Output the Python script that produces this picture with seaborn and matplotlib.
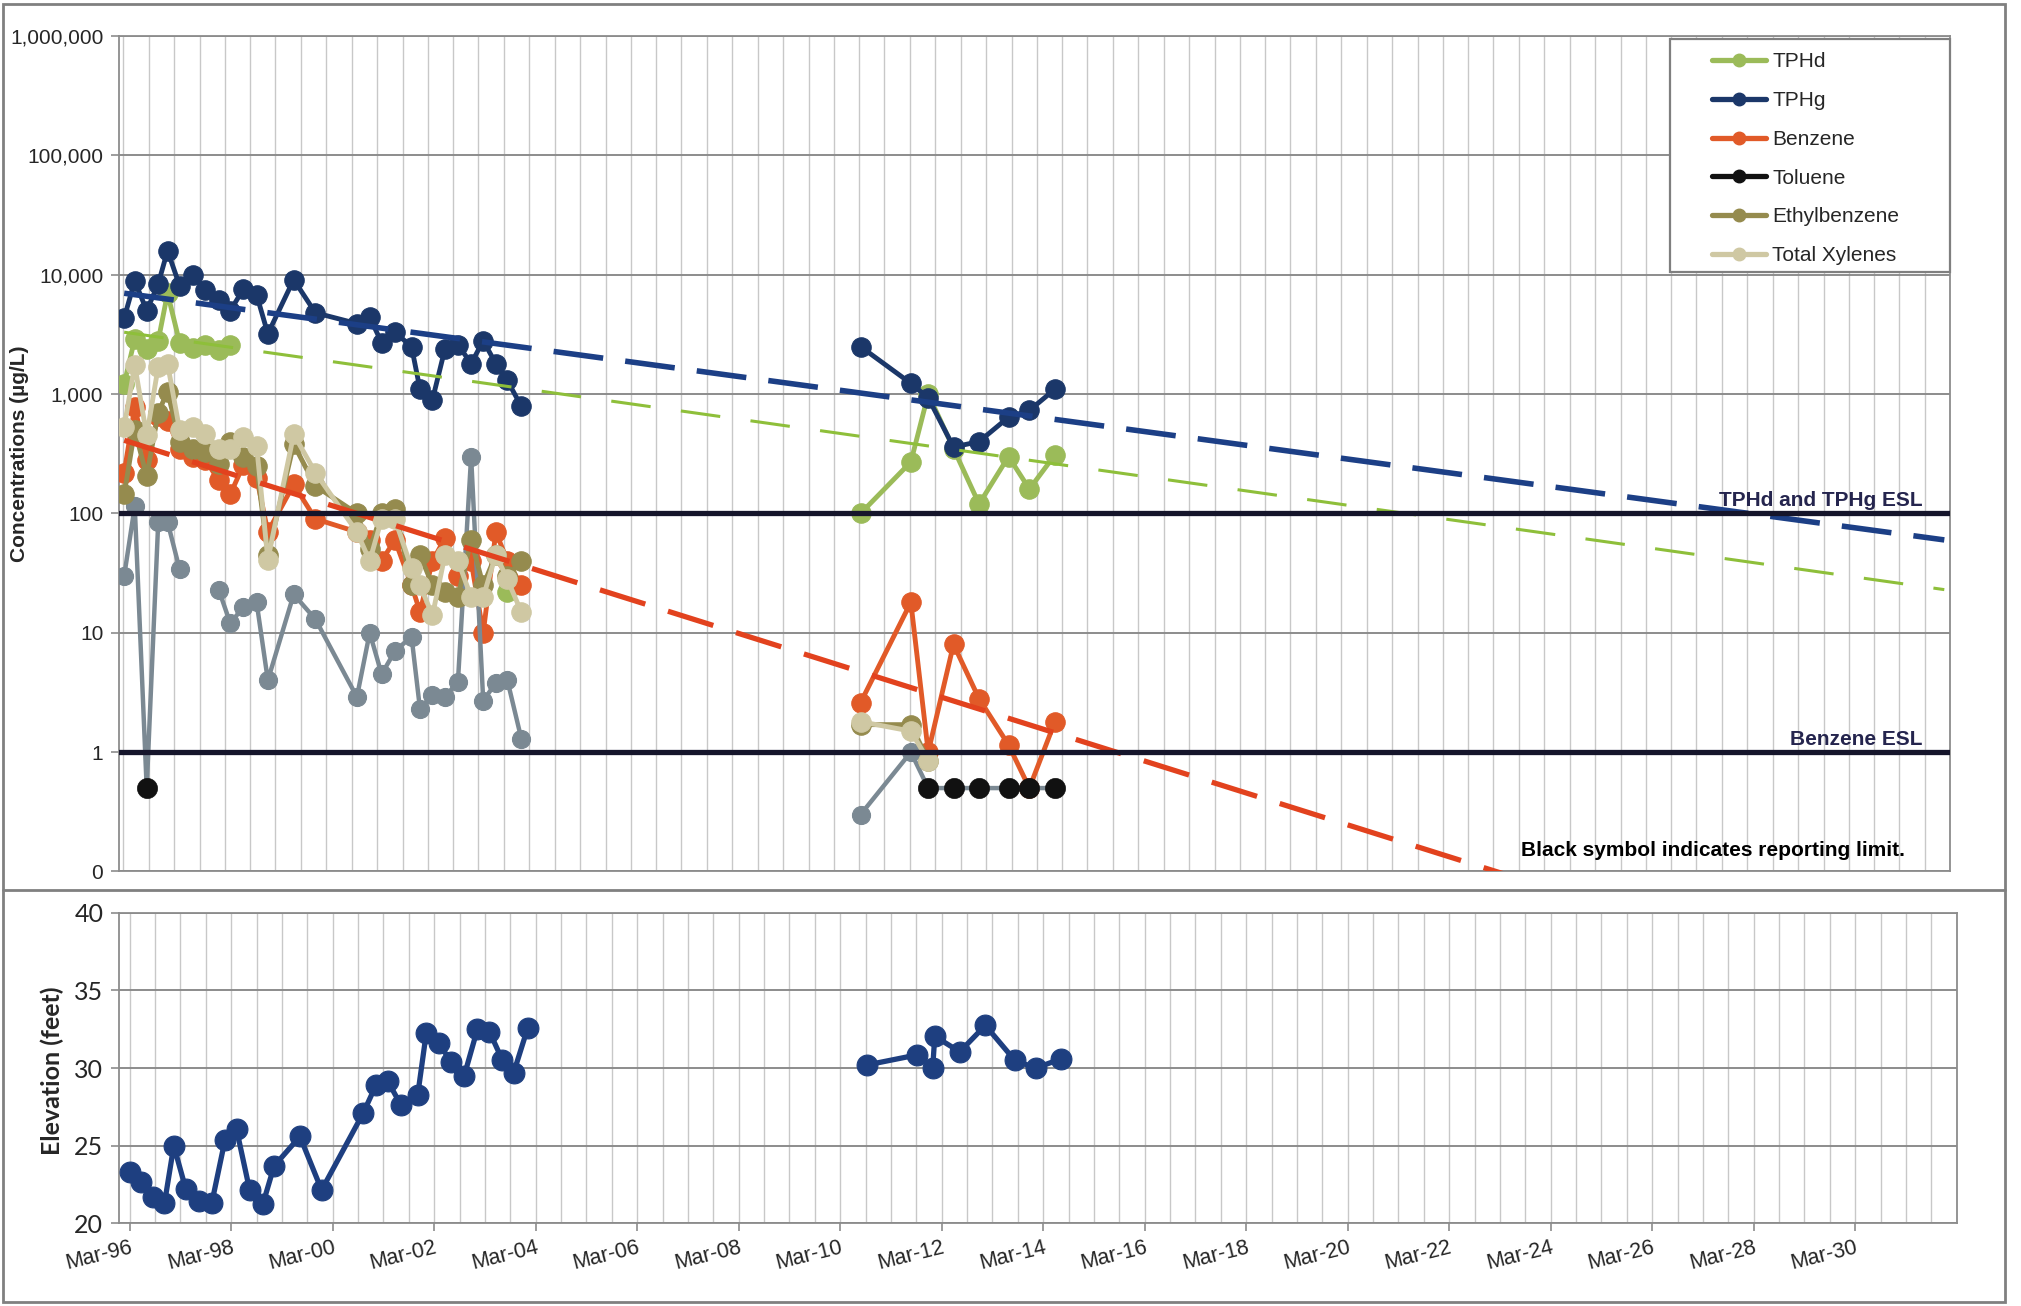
import matplotlib
matplotlib.use('Agg')
import matplotlib.dates as mdates
import matplotlib.pyplot as plt
import matplotlib.transforms as mtransforms
from matplotlib.lines import Line2D
from matplotlib.patches import Rectangle
import numpy as np
import pandas as pd
import seaborn as sns

nan = np.nan

# sampling dates, 1996-2004 (shared by both charts)
early_dates = ['1996-03-07', '1996-05-22', '1996-08-16', '1996-11-07', '1997-01-13',
               '1997-04-10', '1997-07-13', '1997-10-13', '1998-01-16', '1998-04-10',
               '1998-07-13', '1998-10-16', '1999-01-05', '1999-07-10', '1999-12-13',
               '2000-10-07', '2001-01-07', '2001-04-03', '2001-07-07', '2001-11-04',
               '2002-01-04', '2002-04-04', '2002-07-03', '2002-10-04', '2003-01-07',
               '2003-04-04', '2003-07-04', '2003-09-25', '2004-01-03']
chem_late_dates = ['2010-09-10', '2011-09-07', '2012-01-10', '2012-07-10',
                   '2013-01-10', '2013-08-10', '2014-01-07', '2014-07-10']
elev_late_dates = ['2010-09-10', '2011-09-07', '2011-12-28', '2012-01-12', '2012-07-10',
                   '2013-01-10', '2013-08-10', '2014-01-07', '2014-07-10']

# concentrations (ug/L)
tphd = [1220, 2900, 2400, 2800, 7000, 2700, 2450, 2600, 2350, 2600,
        nan, nan, nan, nan, nan, nan, nan, nan, nan, nan, nan, nan, nan, nan, nan, nan, nan,
        22, nan,
        100, 270, 1000, 350, 120, 300, 160, 310]
tphg = [4350, 8900, 5000, 8400, 15900, 8100, 10000, 7450, 6100, 5000,
        7600, 6800, 3200, 9100, 4800, 3900, 4400, 2700, 3300, 2500,
        1100, 900, 2400, 2600, 1800, 2800, 1800, 1300, 790,
        2500, 1230, 930, 360, 400, 640, 730, 1100]
benzene = [220, 780, 280, 650, 600, 350, 300, 280, 190, 145,
           255, 200, 70, 175, 90, 70, 60, 40, 60, 25,
           15, 40, 62, 30, 40, 10, 70, 40, 25,
           2.6, 18, 1.0, 8.0, 2.8, 1.15, 0.5, 1.8]
toluene = [30, 115, 0.5, 85, 85, 34, nan, nan, 23, 12,
           16.5, 18, 4.0, 21, 13, 2.9, 10, 4.5, 7.0, 9.3,
           2.3, 3.0, 2.9, 3.9, 300, 2.7, 3.8, 4.0, 1.3,
           0.3, 1.0, 0.5, 0.5, 0.5, 0.5, 0.5, 0.5]
reporting_limit = [nan, nan, 0.5, nan, nan, nan, nan, nan, nan, nan,
                   nan, nan, nan, nan, nan, nan, nan, nan, nan, nan,
                   nan, nan, nan, nan, nan, nan, nan, nan, nan,
                   nan, nan, 0.5, 0.5, 0.5, 0.5, 0.5, 0.5]
ethylbenzene = [145, 500, 205, 700, 1050, 400, 350, 330, 260, 400,
                300, 250, 45, 380, 170, 100, 50, 100, 110, 25,
                45, 25, 22, 20, 60, 25, 45, 30, 40,
                1.7, 1.7, 0.85, nan, nan, nan, nan, nan]
xylenes = [530, 1750, 450, 1700, 1800, 500, 530, 465, 350, 350,
           440, 370, 41, 460, 220, 70, 40, 90, 90, 35,
           25, 14, 45, 40, 20, 20, 45, 28, 15,
           1.8, 1.5, 0.85, nan, nan, nan, nan, nan]

# groundwater elevation (feet)
elevation = [23.3, 22.7, 21.7, 21.3, 25.0, 22.2, 21.45, 21.3, 25.35, 26.05,
             22.15, 21.25, 23.7, 25.6, 22.15, 27.1, 28.9, 29.15, 27.6, 28.3,
             32.25, 31.6, 30.4, 29.5, 32.5, 32.35, 30.55, 29.7, 32.55,
             30.2, 30.85, 30.0, 32.05, 31.05, 32.75, 30.5, 30.0, 30.6]

# exponential trend lines (start / end values)
trend_dates = ['1996-03-07', '2032-01-18']
trend_tphg = [7000, 60]
trend_tphd = [3300, 23]
trend_benzene = [410, 0.0066]

esl_values = [100, 1]
esl_labels = ['TPHd and TPHg ESL', 'Benzene ESL']

conc_ticks = [0.1, 1, 10, 100, 1000, 10000, 100000, 1000000]
conc_tick_labels = ['0', '1', '10', '100', '1,000', '10,000', '100,000', '1,000,000']
elev_ticks = [20, 25, 30, 35, 40]

legend_labels = ['TPHd', 'TPHg', 'Benzene', 'Toluene', 'Ethylbenzene', 'Total Xylenes']

C_TPHD = '#9BBB59'
C_TPHG = '#1B3769'
C_BENZ = '#E15A28'
C_TOL = '#7B8993'
C_ETHYL = '#958B4E'
C_XYL = '#CFC8A3'
C_ELEV = '#1E3F80'
GRID_H = '#8C8C8C'
GRID_V = '#C8C8C8'
NARROW = ['Liberation Sans Narrow', 'Liberation Sans', 'DejaVu Sans']


def to_frame(dates, values):
    df = pd.DataFrame({'date': pd.to_datetime(dates),
                       'value': np.array(values, dtype=float)})
    gap = df['value'].isna() | (df['date'].diff() > pd.Timedelta(days=900))
    df['segment'] = gap.cumsum()
    return df.dropna(subset=['value'])


def draw_series(ax, dates, values, color, lw=3.5, ms=14, z=3):
    df = to_frame(dates, values)
    sns.lineplot(data=df, x='date', y='value', units='segment', estimator=None,
                 sort=False, color=color, linewidth=lw, marker='o',
                 markersize=ms, markeredgecolor=color, markeredgewidth=0.8,
                 legend=False, zorder=z, ax=ax)


def style_axes(ax):
    for sp in ax.spines.values():
        sp.set_color(GRID_H)
        sp.set_linewidth(1.3)
    ax.set_axisbelow(True)
    ax.xaxis.grid(True, which='both', color=GRID_V, lw=1.0)
    ax.yaxis.grid(True, which='major', color=GRID_H, lw=1.4)


def main():
    sns.set_theme(style='white')
    plt.rcParams['font.family'] = ['Liberation Sans', 'DejaVu Sans']

    fig = plt.figure(figsize=(20.21, 13.06), dpi=100)
    top = fig.add_axes([0.0587, 0.3327, 0.9063, 0.6397])
    bot = fig.add_axes([0.0587, 0.0632, 0.9094, 0.2379])

    chem_dates = early_dates + chem_late_dates
    elev_dates = early_dates + elev_late_dates
    half_years = mdates.date2num(pd.date_range('1996-03-01', '2032-03-01', freq='6MS'))
    two_years = mdates.date2num(pd.date_range('1996-03-01', '2030-03-01', freq='24MS'))

    # ---- concentrations ----
    top.set_yscale('log')
    draw_series(top, chem_dates, tphd, C_TPHD, z=3)
    draw_series(top, chem_dates, tphg, C_TPHG, z=3.1)
    draw_series(top, chem_dates, benzene, C_BENZ, z=3.2)
    draw_series(top, chem_dates, toluene, C_TOL, lw=3.2, ms=13, z=3.3)
    draw_series(top, chem_dates, ethylbenzene, C_ETHYL, z=3.4)
    draw_series(top, chem_dates, xylenes, C_XYL, z=3.5)
    rl = to_frame(chem_dates, reporting_limit)
    sns.scatterplot(data=rl, x='date', y='value', color='#111111', s=210,
                    edgecolor='#111111', linewidth=0.5, zorder=4, legend=False, ax=top)

    td = pd.to_datetime(trend_dates)
    top.plot(td, trend_tphd, color='#8EBF3A', lw=2.2, dashes=(13, 10), zorder=3.6)
    top.plot(td, trend_tphg, color='#1C3F86', lw=4.0, dashes=(9, 4), zorder=3.7)
    top.plot(td, trend_benzene, color='#E2421E', lw=3.8, dashes=(9, 4.5), zorder=3.7)

    blend = mtransforms.blended_transform_factory(top.transAxes, top.transData)
    for v, lab in zip(esl_values, esl_labels):
        top.axhline(v, color='#15152B', lw=3.8, zorder=3.9)
        top.text(0.985, v * 1.06, lab, transform=blend, ha='right', va='bottom',
                 fontsize=15, fontweight='bold', color='#25254E', family=NARROW)
    top.text(0.975, 0.025, 'Black symbol indicates reporting limit.',
             transform=top.transAxes, ha='right', va='center', fontsize=15,
             fontweight='bold', color='black', family=NARROW)

    top.set_ylim(0.1, 1e6)
    top.set_yticks(conc_ticks)
    top.set_yticklabels(conc_tick_labels, family=NARROW)
    top.yaxis.set_minor_locator(matplotlib.ticker.NullLocator())
    top.set_xlim(pd.Timestamp('1996-01-27'), pd.Timestamp('2032-01-18'))
    top.set_xticks([])
    top.set_xticks(half_years, minor=True)
    top.tick_params(axis='x', which='both', length=0, labelbottom=False)
    top.tick_params(axis='y', which='major', length=6, width=1.2, color=GRID_H,
                    pad=5, labelsize=15, left=True)
    top.set_xlabel('')
    top.set_ylabel('Concentrations (\u00b5g/L)', fontsize=15, fontweight='bold')
    top.yaxis.label.set_va('center')
    top.yaxis.set_label_coords(-0.054, 0.5)
    style_axes(top)

    # legend box
    top.add_patch(Rectangle((0.847, 0.7176), 0.153, 0.2794, transform=top.transAxes,
                            facecolor='white', edgecolor='#7F7F7F', lw=1.6,
                            zorder=6, clip_on=False))
    legend_colors = [C_TPHD, C_TPHG, C_BENZ, '#111111', C_ETHYL, C_XYL]
    handles = [Line2D([0], [0], color=c, lw=3.8, marker='o', ms=9) for c in legend_colors]
    leg = top.legend(handles, legend_labels, loc='upper left',
                     bbox_to_anchor=(0.862, 0.998), frameon=False, fontsize=15,
                     handlelength=2.6, handletextpad=0.3, labelspacing=0.95,
                     borderpad=0.2)
    leg.set_zorder(7)

    # ---- elevation ----
    draw_series(bot, elev_dates, elevation, C_ELEV, lw=3.8, ms=15)
    bot.set_ylim(20, 40)
    bot.set_yticks(elev_ticks)
    bot.set_yticklabels([str(t) for t in elev_ticks], family=['Lato', 'DejaVu Sans'])
    bot.set_xlim(pd.Timestamp('1995-12-13'), pd.Timestamp('2032-01-18'))
    bot.set_xticks(two_years)
    bot.xaxis.set_major_formatter(mdates.DateFormatter('%b-%y'))
    bot.set_xticks(half_years, minor=True)
    bot.tick_params(axis='x', which='major', length=6, width=1.2, color=GRID_H,
                    pad=4, labelsize=15.5, bottom=True)
    bot.tick_params(axis='x', which='minor', length=0)
    bot.tick_params(axis='y', which='major', length=6, width=1.2, color=GRID_H,
                    pad=5, labelsize=18, left=True)
    for lab in bot.get_xticklabels():
        lab.set_rotation(14)
        lab.set_ha('right')
        lab.set_va('top')
        lab.set_rotation_mode('anchor')
    bot.set_xlabel('')
    bot.set_ylabel('Elevation (feet)', fontsize=18, fontweight='bold',
                   family=['Lato', 'DejaVu Sans'])
    bot.yaxis.label.set_va('center')
    bot.yaxis.set_label_coords(-0.036, 0.49)
    style_axes(bot)

    # outer frame and separator
    fig.add_artist(Rectangle((0.0013, 0.003), 0.991, 0.994, transform=fig.transFigure,
                             fill=False, edgecolor='#808080', lw=2))
    fig.add_artist(Line2D([0.0013, 0.9923], [0.3189, 0.3189], transform=fig.transFigure,
                          color='#808080', lw=2))

    fig.savefig('out.png', dpi=100)


if __name__ == '__main__':
    main()
